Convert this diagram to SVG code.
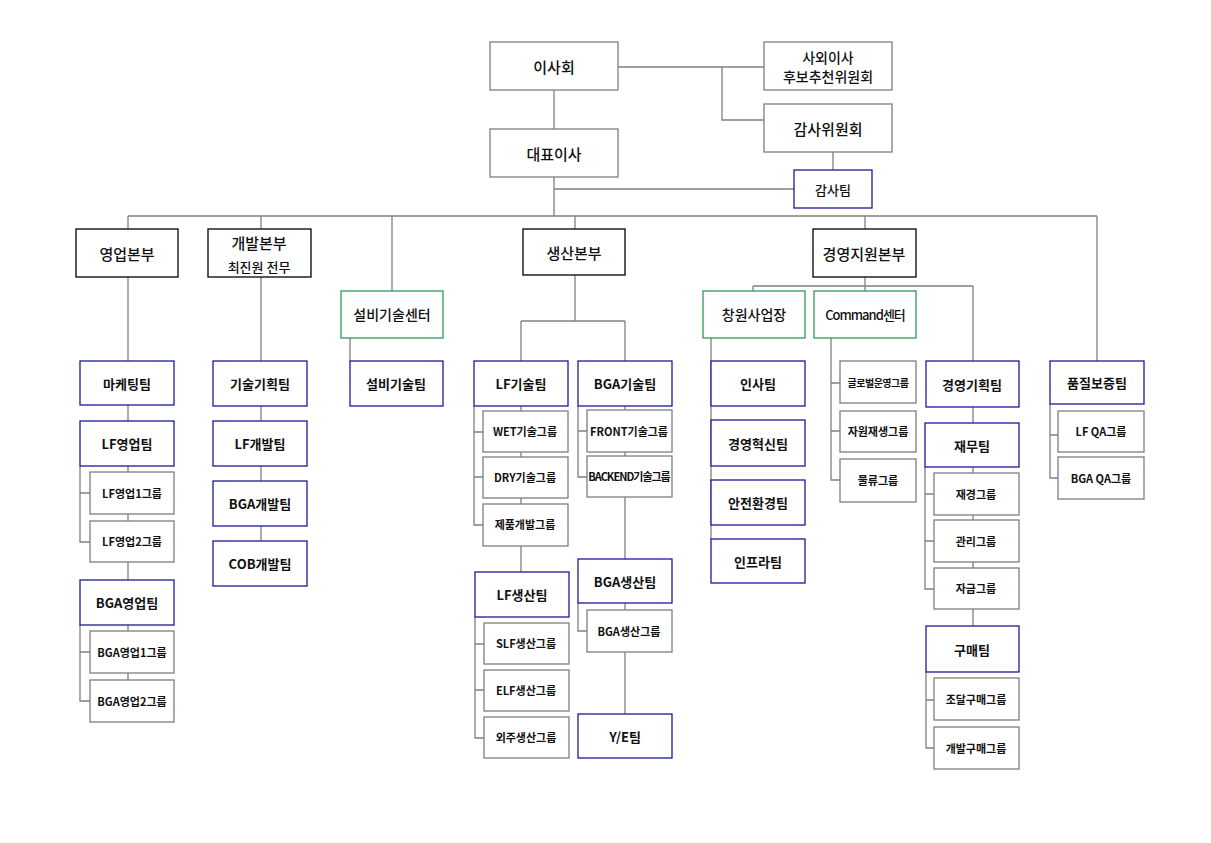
<svg xmlns="http://www.w3.org/2000/svg" width="1211" height="843" viewBox="0 0 1211 843">
<style>
rect{fill:#fff;stroke-width:1.3}
.k{stroke:#000}.g{stroke:#7f7f7f}.b{stroke:#1a1a9c}.gr{stroke:#2e9a5a}
text{font-family:"Noto Sans CJK KR","Malgun Gothic",sans-serif;text-anchor:middle;dominant-baseline:central;fill:#111}
.t1{font-size:15px;font-weight:500}.t2{font-size:13px;font-weight:bold}.t3{font-size:11px;font-weight:bold}
#conn path{fill:none;stroke:#808080;stroke-width:1.3}
</style>
<rect x="0" y="0" width="1211" height="843" style="fill:#fff;stroke:none"/>
<g id="conn"><path d="M618 67H764M722 67V120H764M554 90V129M554 177V216M554 189H794M833 152V170M128 216H1097M128 216V229M261 216V229M392 216V291M575 216V229M865 216V229M1097 216V361
M128 277V361M128 405V421M128 466V472M128 514V521M128 562V580M128 625V631M128 673V680M80 466V542H90M80 493H90M80 625V701H90M80 652H90
M261 277V361M261 406V421M261 466V481M261 526V541M350 338V361
M575 275V321M521 321H625M521 321V361M625 321V361M521 406V411M521 452V457M521 498V504M521 546V572M474 406V525H483M474 432H483M474 477H483
M475 617V738H484M475 644H484M475 690H484M625 406V410M625 452V456M578 406V477H587M578 431H587M625 497V559M578 603V631H587M625 603V610M625 652V714
M865 277V291M753 286H973M753 286V291M973 286V361M711 338V539M831 338V480H840M831 383H840M831 431H840
M973 407V423M973 467V473M973 515V520M973 562V568M973 609V626M925 467V589H934M925 494H934M925 541H934M926 672V748H934M926 700H934
M1050 404V478H1058M1050 435H1058"/></g>
<g id="n1"><rect class="g" x="490" y="42" width="128" height="48"/><text class="t1" x="554" y="66">이사회</text></g>
<g id="n2"><rect class="g" x="764" y="42" width="128" height="48"/><text class="t1" x="828" y="57" style="font-size:14px">사외이사</text><text class="t1" x="828" y="76" style="font-size:14px">후보추천위원회</text></g>
<g id="n3"><rect class="g" x="764" y="104" width="128" height="48"/><text class="t1" x="828" y="128">감사위원회</text></g>
<g id="n4"><rect class="g" x="490" y="129" width="128" height="48"/><text class="t1" x="554" y="153">대표이사</text></g>
<g id="n5"><rect class="b" x="794" y="170" width="78" height="38"/><text class="t1" x="833" y="189" style="font-size:13px">감사팀</text></g>
<g id="n6"><rect class="k" x="76" y="229" width="102" height="48"/><text class="t1" x="127" y="253">영업본부</text></g>
<g id="n7"><rect class="k" x="208" y="229" width="103" height="48"/><text class="t1" x="259" y="242">개발본부</text><text class="t1" x="259" y="266" style="font-size:13px">최진원 전무</text></g>
<g id="n8"><rect class="gr" x="341" y="291" width="102" height="47"/><text class="t1" x="392" y="314" style="font-size:14px">설비기술센터</text></g>
<g id="n9"><rect class="k" x="523" y="229" width="102" height="46"/><text class="t1" x="574" y="252">생산본부</text></g>
<g id="n10"><rect class="k" x="813" y="229" width="103" height="48"/><text class="t1" x="864" y="253">경영지원본부</text></g>
<g id="n11"><rect class="b" x="80" y="361" width="94" height="44"/><text class="t2" x="127" y="383">마케팅팀</text></g>
<g id="n12"><rect class="b" x="80" y="421" width="94" height="45"/><text class="t2" x="127" y="443">LF영업팀</text></g>
<g id="n13"><rect class="g" x="90" y="472" width="84" height="42"/><text class="t3" x="132" y="493">LF영업1그룹</text></g>
<g id="n14"><rect class="g" x="90" y="521" width="84" height="41"/><text class="t3" x="132" y="541">LF영업2그룹</text></g>
<g id="n15"><rect class="b" x="80" y="580" width="94" height="45"/><text class="t2" x="127" y="602">BGA영업팀</text></g>
<g id="n16"><rect class="g" x="90" y="631" width="84" height="42"/><text class="t3" x="132" y="652">BGA영업1그룹</text></g>
<g id="n17"><rect class="g" x="90" y="680" width="84" height="42"/><text class="t3" x="132" y="701">BGA영업2그룹</text></g>
<g id="n18"><rect class="b" x="213" y="361" width="94" height="45"/><text class="t2" x="260" y="383">기술기획팀</text></g>
<g id="n19"><rect class="b" x="213" y="421" width="94" height="45"/><text class="t2" x="260" y="443">LF개발팀</text></g>
<g id="n20"><rect class="b" x="213" y="481" width="94" height="45"/><text class="t2" x="260" y="503">BGA개발팀</text></g>
<g id="n21"><rect class="b" x="213" y="541" width="94" height="45"/><text class="t2" x="260" y="563">COB개발팀</text></g>
<g id="n22"><rect class="b" x="350" y="361" width="93" height="45"/><text class="t2" x="396" y="383">설비기술팀</text></g>
<g id="n23"><rect class="b" x="474" y="361" width="94" height="45"/><text class="t2" x="521" y="383">LF기술팀</text></g>
<g id="n24"><rect class="g" x="483" y="411" width="85" height="41"/><text class="t3" x="525" y="431">WET기술그룹</text></g>
<g id="n25"><rect class="g" x="483" y="457" width="85" height="41"/><text class="t3" x="525" y="477">DRY기술그룹</text></g>
<g id="n26"><rect class="g" x="483" y="504" width="85" height="42"/><text class="t3" x="525" y="524">제품개발그룹</text></g>
<g id="n27"><rect class="b" x="475" y="572" width="94" height="45"/><text class="t2" x="522" y="594">LF생산팀</text></g>
<g id="n28"><rect class="g" x="484" y="623" width="85" height="41"/><text class="t3" x="526" y="643">SLF생산그룹</text></g>
<g id="n29"><rect class="g" x="484" y="670" width="85" height="41"/><text class="t3" x="526" y="690">ELF생산그룹</text></g>
<g id="n30"><rect class="g" x="484" y="717" width="85" height="41"/><text class="t3" x="526" y="737">외주생산그룹</text></g>
<g id="n31"><rect class="b" x="578" y="361" width="94" height="45"/><text class="t2" x="625" y="383">BGA기술팀</text></g>
<g id="n32"><rect class="g" x="587" y="410" width="85" height="42"/><text class="t3" x="629" y="431">FRONT기술그룹</text></g>
<g id="n33"><rect class="g" x="587" y="456" width="85" height="41"/><text class="t3" x="629" y="476" style="letter-spacing:-1px">BACKEND기술그룹</text></g>
<g id="n34"><rect class="b" x="578" y="559" width="94" height="44"/><text class="t2" x="625" y="581">BGA생산팀</text></g>
<g id="n35"><rect class="g" x="587" y="610" width="85" height="42"/><text class="t3" x="629" y="631">BGA생산그룹</text></g>
<g id="n36"><rect class="b" x="578" y="714" width="94" height="44"/><text class="t2" x="625" y="736">Y/E팀</text></g>
<g id="n37"><rect class="gr" x="703" y="291" width="102" height="47"/><text class="t1" x="754" y="314" style="font-size:14px">창원사업장</text></g>
<g id="n38"><rect class="gr" x="814" y="291" width="102" height="47"/><text class="t1" x="865" y="314" style="font-size:13px;letter-spacing:-1px">Command센터</text></g>
<g id="n39"><rect class="b" x="711" y="361" width="94" height="45"/><text class="t2" x="758" y="383">인사팀</text></g>
<g id="n40"><rect class="b" x="711" y="420" width="94" height="46"/><text class="t2" x="758" y="443">경영혁신팀</text></g>
<g id="n41"><rect class="b" x="711" y="480" width="94" height="45"/><text class="t2" x="758" y="502">안전환경팀</text></g>
<g id="n42"><rect class="b" x="711" y="539" width="94" height="44"/><text class="t2" x="758" y="561">인프라팀</text></g>
<g id="n43"><rect class="g" x="840" y="361" width="76" height="42"/><text class="t3" x="878" y="382" style="font-size:10px;letter-spacing:-0.5px">글로벌운영그룹</text></g>
<g id="n44"><rect class="g" x="840" y="411" width="76" height="41"/><text class="t3" x="878" y="431">자원재생그룹</text></g>
<g id="n45"><rect class="g" x="840" y="459" width="76" height="43"/><text class="t3" x="878" y="480">물류그룹</text></g>
<g id="n46"><rect class="b" x="926" y="361" width="93" height="46"/><text class="t2" x="972" y="384">경영기획팀</text></g>
<g id="n47"><rect class="b" x="925" y="423" width="94" height="44"/><text class="t2" x="972" y="445">재무팀</text></g>
<g id="n48"><rect class="g" x="934" y="473" width="85" height="42"/><text class="t3" x="976" y="494">재경그룹</text></g>
<g id="n49"><rect class="g" x="934" y="520" width="85" height="42"/><text class="t3" x="976" y="541">관리그룹</text></g>
<g id="n50"><rect class="g" x="934" y="568" width="85" height="41"/><text class="t3" x="976" y="588">자금그룹</text></g>
<g id="n51"><rect class="b" x="926" y="626" width="93" height="46"/><text class="t2" x="972" y="649">구매팀</text></g>
<g id="n52"><rect class="g" x="934" y="678" width="85" height="42"/><text class="t3" x="976" y="699">조달구매그룹</text></g>
<g id="n53"><rect class="g" x="934" y="727" width="85" height="42"/><text class="t3" x="976" y="748">개발구매그룹</text></g>
<g id="n54"><rect class="b" x="1050" y="361" width="94" height="43"/><text class="t2" x="1097" y="382">품질보증팀</text></g>
<g id="n55"><rect class="g" x="1058" y="411" width="86" height="41"/><text class="t3" x="1101" y="431">LF QA그룹</text></g>
<g id="n56"><rect class="g" x="1058" y="457" width="86" height="42"/><text class="t3" x="1101" y="478">BGA QA그룹</text></g>
</svg>
